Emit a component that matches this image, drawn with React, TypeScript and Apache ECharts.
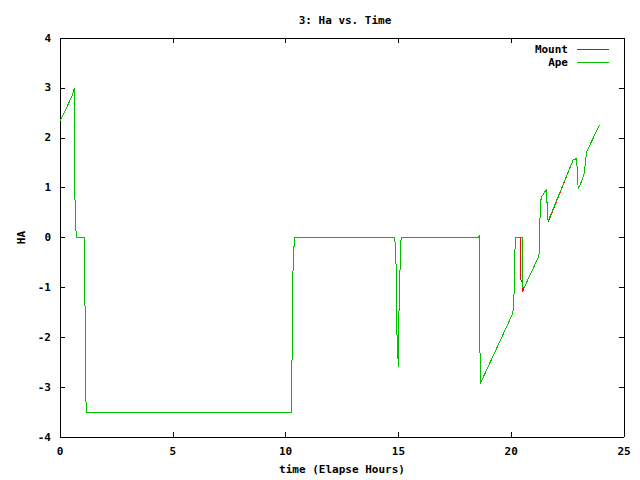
import React, { useEffect, useRef } from "react";
import * as echarts from "echarts";

const title = "3: Ha vs. Time";
const xName = "time (Elapse Hours)";
const yName = "HA";
const seriesNames = ["Mount", "Ape"];
const seriesColors = ["#ff0000", "#00c000"];

// [time, HA]
const apePoints: [number, number][] = [
  [0, 2.33], [0.55, 2.85], [0.63, 3.0], [0.64, 2.25], [0.665, 0.75], [0.72, 0],
  [1.08, 0], [1.1, -0.88], [1.13, -2.64], [1.16, -3.5],
  [10.27, -3.5], [10.27, -3.0], [10.3, -1.87], [10.33, -0.64], [10.39, 0],
  [14.82, 0], [14.88, -0.2], [14.91, -0.86], [14.94, -2.0], [14.98, -2.4], [15.0, -2.59],
  [15.01, -2.14], [15.03, -1.4], [15.08, -0.5], [15.12, 0],
  [18.54, 0], [18.58, 0.04], [18.6, -1.44], [18.63, -2.93],
  [20.02, -1.57], [20.1, -1.45], [20.13, -1.07], [20.18, 0],
  [20.49, 0], [20.5, -1.0], [20.58, -1.0],
  [21.23, -0.37], [21.28, 0.44], [21.32, 0.76], [21.37, 0.83], [21.57, 0.97],
  [21.6, 0.49], [21.64, 0.33],
  [22.75, 1.56], [22.9, 1.58], [22.97, 0.97], [23.12, 1.13], [23.24, 1.29],
  [23.3, 1.56], [23.35, 1.73], [23.6, 1.96], [23.91, 2.26],
];

const mountPoints: [number, number][] = [
  [0, 2.33], [0.55, 2.85], [0.63, 3.0], [0.64, 2.25], [0.665, 0.75], [0.72, 0],
  [1.08, 0], [1.1, -0.88], [1.13, -2.64], [1.16, -3.5],
  [10.27, -3.5], [10.27, -3.0], [10.3, -1.87], [10.33, -0.64], [10.39, 0],
  [14.82, 0], [14.88, -0.2], [14.91, -0.86], [14.94, -2.0], [14.98, -2.4], [15.0, -2.59],
  [15.01, -2.14], [15.03, -1.4], [15.08, -0.5], [15.12, 0],
  [18.54, 0], [18.58, 0.04], [18.6, -1.44], [18.63, -2.93],
  [20.02, -1.57], [20.1, -1.45], [20.13, -1.07], [20.18, 0],
  [20.42, 0], [20.43, -0.84], [20.48, -0.9], [20.5, -1.1], [20.58, -1.0],
  [21.23, -0.37], [21.28, 0.44], [21.32, 0.76], [21.37, 0.83], [21.57, 0.97],
  [21.58, 0.84], [21.6, 0.49], [21.64, 0.31],
  [22.75, 1.56], [22.9, 1.58], [22.97, 0.97], [23.12, 1.13], [23.24, 1.29],
  [23.3, 1.56], [23.35, 1.73], [23.6, 1.96], [23.91, 2.26],
];

const xMin = 0, xMax = 25, xStep = 5;
const yMin = -4, yMax = 4, yStep = 1;

const FONT = "'DejaVu Sans Mono', 'Liberation Mono', monospace";

export default function App() {
  const ref = useRef<HTMLDivElement>(null);
  useEffect(() => {
    if (!ref.current) return;
    const chart = echarts.init(ref.current, undefined, { renderer: "svg" });
    const labelStyle = { color: "#000", fontFamily: FONT, fontSize: 11, fontWeight: "bold" as const };
    const axisCommon = {
      axisLine: { show: true, onZero: false, lineStyle: { color: "#000", width: 1 } },
      axisTick: { show: true, inside: true, length: 5, lineStyle: { color: "#000" } },
      splitLine: { show: false },
    };
    chart.setOption({
      animation: false,
      backgroundColor: "#fff",
      title: {
        text: title,
        left: 340,
        textAlign: "center",
        top: 10,
        textStyle: { ...labelStyle },
      },
      grid: { left: 60, right: 16, top: 38, bottom: 42, containLabel: false },
      xAxis: [
        {
          type: "value", min: xMin, max: xMax, interval: xStep, position: "bottom",
          name: xName, nameLocation: "middle", nameGap: 27, nameTextStyle: { ...labelStyle },
          axisLabel: { ...labelStyle, margin: 9 },
          ...axisCommon,
        },
        {
          type: "value", min: xMin, max: xMax, interval: xStep, position: "top",
          axisLabel: { show: false },
          ...axisCommon,
        },
      ],
      yAxis: [
        {
          type: "value", min: yMin, max: yMax, interval: yStep, position: "left",
          name: yName, nameLocation: "middle", nameGap: 33, nameRotate: 90,
          nameTextStyle: { ...labelStyle },
          axisLabel: { ...labelStyle, margin: 9 },
          ...axisCommon,
        },
        {
          type: "value", min: yMin, max: yMax, interval: yStep, position: "right",
          axisLabel: { show: false },
          ...axisCommon,
        },
      ],
      series: [
        {
          name: seriesNames[0], type: "line", data: mountPoints, showSymbol: false,
          lineStyle: { color: seriesColors[0], width: 1 }, itemStyle: { color: seriesColors[0] },
          xAxisIndex: 0, yAxisIndex: 0,
        },
        {
          name: seriesNames[1], type: "line", data: apePoints, showSymbol: false,
          lineStyle: { color: seriesColors[1], width: 1 }, itemStyle: { color: seriesColors[1] },
          xAxisIndex: 0, yAxisIndex: 0,
        },
      ],
      graphic: seriesNames.flatMap((n, i) => [
        {
          type: "text", x: 568, y: 49 + i * 13,
          style: { text: n, fill: "#000", font: `bold 11px ${FONT}`, align: "right", verticalAlign: "middle" },
        },
        {
          type: "line", shape: { x1: 577, y1: 49 + i * 13, x2: 609, y2: 49 + i * 13 },
          style: { stroke: seriesColors[i], lineWidth: 1 },
        },
      ]),
    });
    return () => chart.dispose();
  }, []);
  return (
    <>
      <style>{"#chart-box svg path { shape-rendering: crispEdges; }"}</style>
      <div id="chart-box" ref={ref} style={{ width: 640, height: 480, position: "absolute", left: 0, top: 0 }} />
    </>
  );
}
